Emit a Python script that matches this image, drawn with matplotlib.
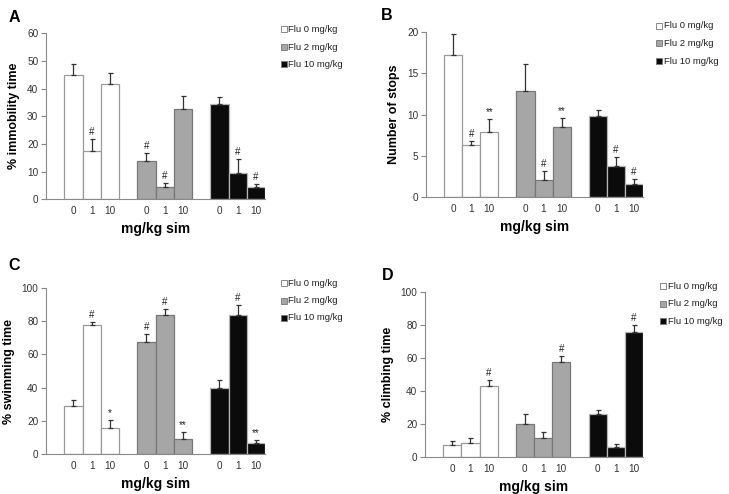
import numpy as np
import matplotlib
matplotlib.use("Agg")
import matplotlib.pyplot as plt
from matplotlib.patches import Rectangle

plt.rcParams["font.family"] = ["Liberation Sans", "DejaVu Sans"]

# -----------------------------------------------------------------------------
# DATA
# -----------------------------------------------------------------------------
sim_doses = ["0", "1", "10"]
flu_groups = ["Flu 0 mg/kg", "Flu 2 mg/kg", "Flu 10 mg/kg"]

# A: % immobility time
immob_mean = [[45.0, 17.5, 41.8], [13.9, 4.5, 32.5], [34.5, 9.6, 4.5]]
immob_err = [[3.9, 4.2, 3.7], [2.8, 1.4, 4.9], [2.3, 4.8, 1.2]]
immob_sig = [["", "#", ""], ["#", "#", ""], ["", "#", "#"]]

# B: number of stops
stops_mean = [[17.2, 6.3, 7.9], [12.9, 2.1, 8.5], [9.8, 3.7, 1.6]]
stops_err = [[2.5, 0.5, 1.5], [3.2, 1.0, 1.1], [0.8, 1.1, 0.6]]
stops_sig = [["", "#", "**"], ["", "#", "**"], ["", "#", "#"]]

# C: % swimming time
swim_mean = [[28.8, 77.8, 15.8], [67.5, 83.8, 9.0], [39.5, 83.5, 6.5]]
swim_err = [[3.7, 1.7, 4.7], [4.5, 3.7, 4.0], [5.0, 6.5, 2.0]]
swim_sig = [["", "#", "*"], ["#", "#", "**"], ["", "#", "**"]]

# D: % climbing time
climb_mean = [[7.2, 8.3, 43.2], [19.8, 11.8, 57.5], [25.8, 5.8, 75.5]]
climb_err = [[2.3, 3.5, 3.6], [6.0, 3.2, 3.8], [2.7, 2.2, 4.5]]
climb_sig = [["", "", "#"], ["", "", "#"], ["", "", "#"]]

face_cols = ["#ffffff", "#a6a6a6", "#0b0b0b"]
edge_cols = ["#9a9a9a", "#777777", "#b5b5b5"]

W, H = 729, 494
fig = plt.figure(figsize=(W / 100, H / 100), dpi=100)


def px_axes(left, right, y_top, y_bottom):
    return fig.add_axes([left / W, 1 - y_bottom / H, (right - left) / W, (y_bottom - y_top) / H])


def draw_panel(ax, means, errs, sigs, ymax, ystep, ylabel):
    for g in range(3):
        xs = 4 * g + 1.5 + np.arange(3)
        ax.bar(xs, means[g], width=1.0, color=face_cols[g], edgecolor=edge_cols[g],
               linewidth=0.9, zorder=2)
        ax.errorbar(xs, means[g], yerr=[np.zeros(3), errs[g]], fmt="none",
                    ecolor="#333333", elinewidth=0.9, capsize=1.8, capthick=0.9, zorder=3)
        for x, m, e, s in zip(xs, means[g], errs[g], sigs[g]):
            if s:
                ax.text(x, m + e + ymax * 0.012, s, ha="center", va="bottom",
                        fontsize=7, color="#222222")
    ax.set_xlim(0, 12)
    ax.set_ylim(0, ymax)
    ax.set_yticks(np.arange(0, ymax + 0.1, ystep))
    ax.set_xticks([4 * g + 1.5 + i for g in range(3) for i in range(3)])
    ax.set_xticklabels(sim_doses * 3)
    ax.tick_params(axis="x", length=0, pad=5, labelsize=7.2, colors="#333333")
    ax.tick_params(axis="y", length=3.5, width=0.8, pad=2, labelsize=7.2,
                   colors="#888888", labelcolor="#333333")
    for side in ["top", "right"]:
        ax.spines[side].set_visible(False)
    for side in ["left", "bottom"]:
        ax.spines[side].set_color("#8a8a8a")
        ax.spines[side].set_linewidth(0.8)
    ax.set_ylabel(ylabel, fontsize=9, fontweight="bold", labelpad=5)
    ax.set_xlabel("mg/kg sim", fontsize=10, fontweight="bold", labelpad=4)


def draw_legend(x, y0, dy):
    for k, name in enumerate(flu_groups):
        y = y0 + k * dy
        fig.patches.append(Rectangle((x / W, 1 - (y + 3) / H), 6 / W, 6 / H,
                                     transform=fig.transFigure, facecolor=face_cols[k],
                                     edgecolor="#777777", linewidth=0.6))
        fig.text((x + 7.5) / W, 1 - y / H, name, fontsize=6.8, va="center",
                 ha="left", color="#222222")


axA = px_axes(46, 265, 33.3, 199.3)
draw_panel(axA, immob_mean, immob_err, immob_sig, 60, 10, "% immobility time")
axB = px_axes(426, 643, 32, 197)
draw_panel(axB, stops_mean, stops_err, stops_sig, 20, 5, "Number of stops")
axC = px_axes(46, 265, 288, 454)
draw_panel(axC, swim_mean, swim_err, swim_sig, 100, 20, "% swimming time")
axD = px_axes(425, 643, 292, 457)
draw_panel(axD, climb_mean, climb_err, climb_sig, 100, 20, "% climbing time")

for lx, ly, letter in [(9, 18, "A"), (381, 15, "B"), (8, 265, "C"), (382, 275, "D")]:
    fig.text(lx / W, 1 - ly / H, letter, fontsize=11.5, fontweight="bold", va="center", ha="left")

draw_legend(281, 29.5, 17.5)
draw_legend(656, 26, 17.5)
draw_legend(281, 283, 17.5)
draw_legend(660, 286, 17.5)

fig.savefig("out.png", dpi=100, facecolor="white")
